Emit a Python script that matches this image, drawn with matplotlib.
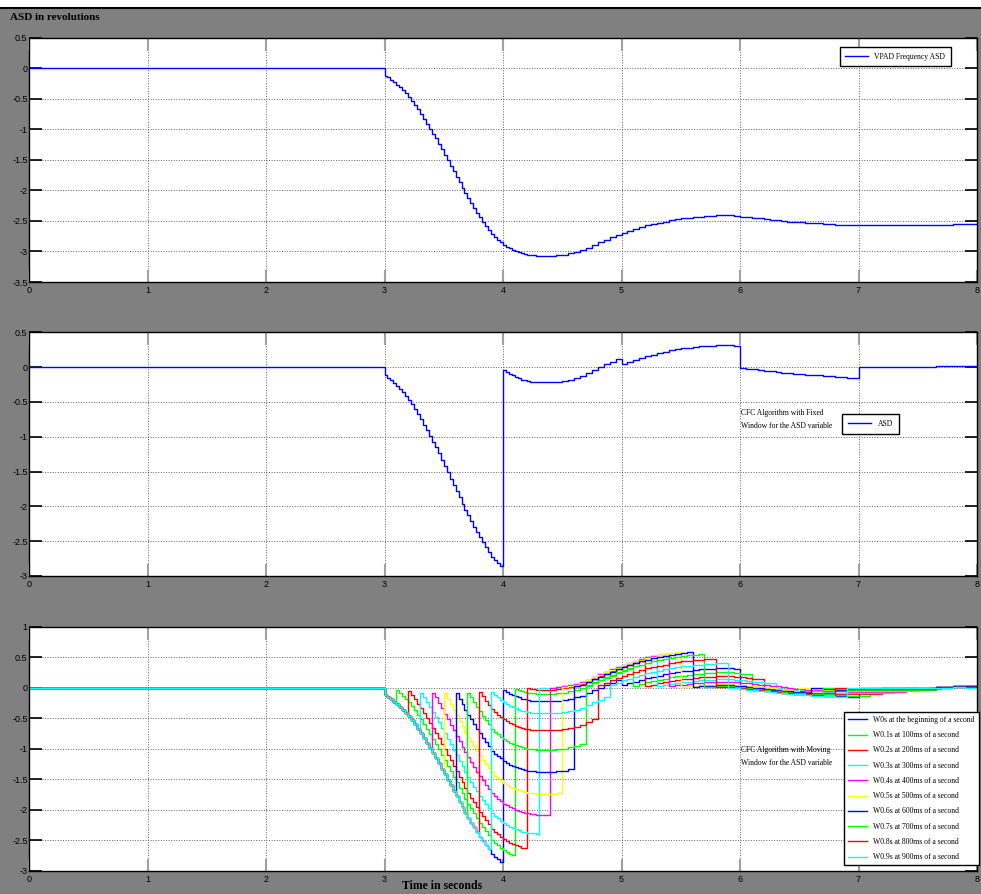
import numpy as np
import matplotlib.pyplot as plt
from matplotlib.lines import Line2D

# ASD values: fine steps during the drop, coarser after
fine_start, fine_dt = 3.0, 0.025
asd_fine = [-0.12, -0.15, -0.19, -0.23, -0.27, -0.31, -0.36, -0.41, -0.47, -0.53,
            -0.60, -0.67, -0.75, -0.83, -0.91, -0.99, -1.07, -1.15, -1.24, -1.33,
            -1.42, -1.51, -1.60, -1.69, -1.78, -1.87, -1.96, -2.05, -2.13, -2.21,
            -2.29, -2.37, -2.44, -2.51, -2.58, -2.65, -2.72, -2.77, -2.81, -2.85,
            -2.89, -2.92, -2.95, -2.97, -2.99, -3.01, -3.03, -3.04, -3.05, -3.06,
            -3.06, -3.07, -3.07, -3.07, -3.07, -3.07, -3.07, -3.07, -3.06, -3.06]
coarse_start, coarse_dt = 4.5, 0.05
asd_coarse = [-3.05, -3.03, -3.01, -2.98, -2.94, -2.89, -2.85, -2.81, -2.77, -2.73,
              -2.69, -2.66, -2.63, -2.60, -2.57, -2.55, -2.53, -2.51, -2.49, -2.47,
              -2.46, -2.45, -2.44, -2.43, -2.42, -2.42, -2.41, -2.41, -2.41, -2.42,
              -2.43, -2.44, -2.45, -2.46, -2.47, -2.48, -2.49, -2.50, -2.51, -2.52,
              -2.52, -2.53, -2.54, -2.54, -2.55, -2.55, -2.56, -2.56, -2.57, -2.57,
              -2.57, -2.57, -2.57, -2.57, -2.57, -2.57, -2.57, -2.57, -2.57, -2.57,
              -2.57, -2.57, -2.57, -2.56, -2.56, -2.56, -2.55, -2.55, -2.55, -2.55,
              -2.55]

window_offsets = [0.0, 0.1, 0.2, 0.3, 0.4, 0.5, 0.6, 0.7, 0.8, 0.9]
window_labels = ["W0s at the beginning of a second", "W0.1s at 100ms of a second",
                 "W0.2s at 200ms of a second", "W0.3s at 300ms of a second",
                 "W0.4s at 400ms of a second", "W0.5s at 500ms of a second",
                 "W0.6s at 600ms of a second", "W0.7s at 700ms of a second",
                 "W0.8s at 800ms of a second", "W0.9s at 900ms of a second"]
window_colors = ['#0000ff', '#00ff00', '#ff0000', '#00ffff', '#ff00ff',
                 '#ffff00', '#0000ff', '#00ff00', '#ff0000', '#00ffff']

ts = np.concatenate([fine_start + fine_dt * np.arange(len(asd_fine)),
                     coarse_start + coarse_dt * np.arange(len(asd_coarse))])
vals = np.array(asd_fine + asd_coarse)
t = np.concatenate([[0.0], ts, [8.0]])
y = np.concatenate([[0.0], vals, [vals[-1]]])


def windowed(offset):
    # CFC: value minus the sample just before the start of the current window
    out = np.zeros_like(y)
    for i in range(len(t)):
        if t[i] < fine_start:
            continue
        t0 = np.floor(t[i] - offset + 1e-9) + offset
        j = np.searchsorted(ts, t0 - 1e-9) - 1
        ref = 0.0 if j < 0 else vals[j]
        out[i] = y[i] - ref
    return out


serif = ['Liberation Serif', 'DejaVu Serif']
tickfont = ['Liberation Sans Narrow', 'Liberation Sans', 'DejaVu Sans']

fig = plt.figure(figsize=(9.81, 8.94), dpi=100, facecolor='#808080')
W, H = 981.0, 894.0


def make_ax(top, bot, ylim, yticks):
    ax = fig.add_axes([29 / W, 1 - bot / H, 948 / W, (bot - top) / H])
    ax.set_facecolor('white')
    ax.set_xlim(0, 8)
    ax.set_ylim(*ylim)
    ax.set_xticks(range(9))
    ax.set_xticklabels([str(i) for i in range(9)], family=tickfont, fontsize=6.5)
    ax.set_yticks(yticks)
    ax.set_yticklabels(['%g' % v for v in yticks], family=tickfont, fontsize=6.5)
    ax.tick_params(axis='x', direction='in', length=9, width=1.5, color='#a0a0a0',
                   top=True, pad=3)
    ax.tick_params(axis='y', direction='in', length=9, width=1.2, color='black',
                   right=True, pad=1)
    ax.grid(True, linestyle=':', color='#606060', linewidth=0.7)
    for s in ax.spines.values():
        s.set_color('black')
        s.set_linewidth(1.0)
    return ax


leg_kw = dict(loc='upper left', prop={'family': serif, 'size': 5.5}, fancybox=False,
              edgecolor='black', framealpha=1, borderaxespad=0)

# panel 1
ax1 = make_ax(37.7, 282.0, (-3.5, 0.5), [0.5, 0, -0.5, -1, -1.5, -2, -2.5, -3, -3.5])
ax1.plot(t, y, color='#0000ff', lw=1.0, drawstyle='steps-post', label='VPAD Frequency ASD')
ax1.legend(bbox_to_anchor=(0.855, 0.962), borderpad=0.75, handlelength=3.0, **leg_kw)

# panel 2
ax2 = make_ax(332.3, 576.0, (-3, 0.5), [0.5, 0, -0.5, -1, -1.5, -2, -2.5, -3])
ax2.plot(t, windowed(0.0), color='#0000ff', lw=1.0, drawstyle='steps-post', label='ASD')
ax2.legend(bbox_to_anchor=(0.858, 0.665), borderpad=0.8, handlelength=3.0, **leg_kw)
fig.text(741 / W, 1 - 409 / H, 'CFC Algorithm with Fixed\nWindow for the ASD variable',
         family=serif, fontsize=5.5, va='top', ha='left', linespacing=1.8)

# panel 3
ax3 = make_ax(626.7, 870.7, (-3, 1), [1, 0.5, 0, -0.5, -1, -1.5, -2, -2.5, -3])
for off, lab, col in zip(window_offsets, window_labels, window_colors):
    ax3.plot(t, windowed(off), color=col, lw=1.0, drawstyle='steps-post', label=lab)
ax3.legend(bbox_to_anchor=(0.86, 0.65), borderpad=0.5, labelspacing=0.95,
           handlelength=2.5, **leg_kw)
fig.text(741 / W, 1 - 746 / H, 'CFC Algorithm with Moving\nWindow for the ASD variable',
         family=serif, fontsize=5.5, va='top', ha='left', linespacing=1.8)

# window border and labels
fig.patches.append(plt.Rectangle((0, 1 - 7 / H), 1, 7 / H, transform=fig.transFigure,
                                 facecolor='white', edgecolor='none'))
fig.lines.append(Line2D([0, 1], [1 - 7.5 / H, 1 - 7.5 / H], transform=fig.transFigure,
                        color='black', lw=1.5))
fig.text(10 / W, 1 - 17 / H, 'ASD in revolutions', family=serif, fontsize=8,
         fontweight='bold', va='center', ha='left')
fig.text(442 / W, 1 - 886 / H, 'Time in seconds', family=serif, fontsize=8.5,
         fontweight='bold', va='center', ha='center')

fig.savefig('out.png', dpi=100, facecolor=fig.get_facecolor())
